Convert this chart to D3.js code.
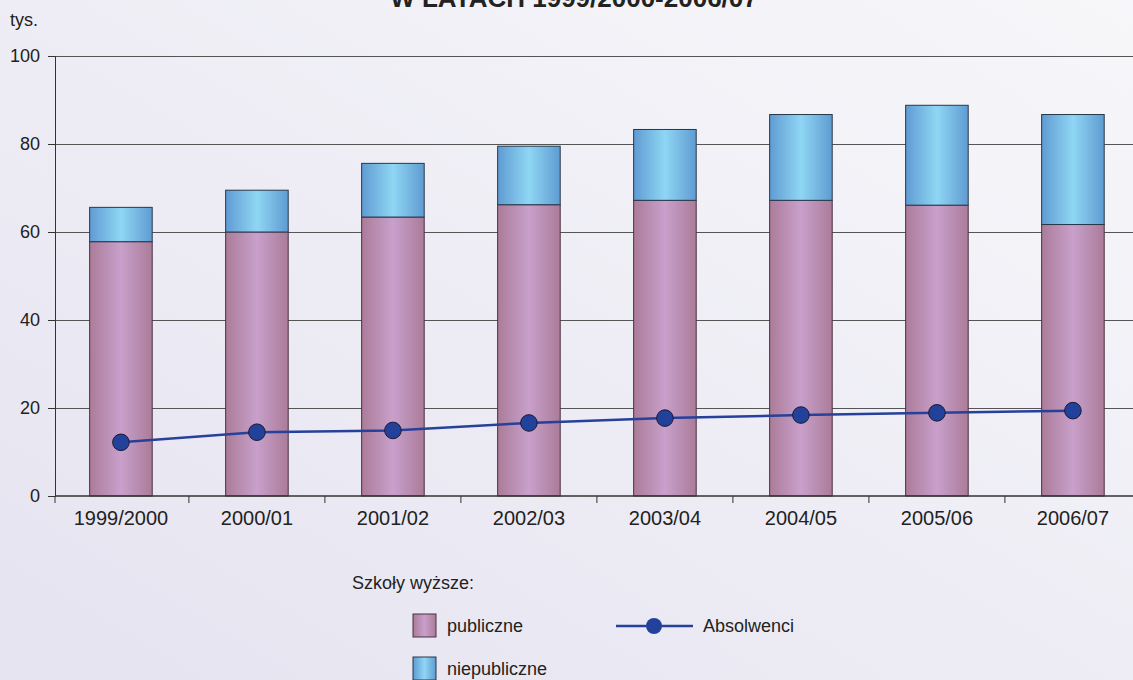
<!DOCTYPE html>
<html>
<head>
<meta charset="utf-8">
<script src="https://cdn.jsdelivr.net/npm/d3@7"></script>
<style>
  html, body { margin: 0; padding: 0; }
  body { width: 1133px; height: 680px; overflow: hidden; }
  svg { display: block; font-family: "Liberation Sans", Arial, sans-serif; }
</style>
</head>
<body>
<div id="chart"></div>
<script>
// data (thousands)
var years = ["1999/2000", "2000/01", "2001/02", "2002/03", "2003/04", "2004/05", "2005/06", "2006/07"];
var publiczne = [57.8, 60.0, 63.4, 66.2, 67.2, 67.2, 66.1, 61.7];
var niepubliczne = [7.8, 9.5, 12.2, 13.3, 16.1, 19.5, 22.7, 25.0];
var absolwenci = [12.2, 14.5, 14.9, 16.6, 17.7, 18.4, 18.9, 19.4];
var yTicks = [0, 20, 40, 60, 80, 100];

var width = 1133, height = 680;
var left = 55, step = 136;

var svg = d3.select("#chart").append("svg")
    .attr("width", width)
    .attr("height", height);

var defs = svg.append("defs");

var bg = defs.append("linearGradient").attr("id", "bg")
    .attr("x1", "0%").attr("y1", "100%").attr("x2", "100%").attr("y2", "0%");
bg.append("stop").attr("offset", "0%").attr("stop-color", "#e5e3f0");
bg.append("stop").attr("offset", "100%").attr("stop-color", "#f7f7fa");

function barGradient(id, edge, mid) {
    var g = defs.append("linearGradient").attr("id", id)
        .attr("x1", "0%").attr("y1", "0%").attr("x2", "100%").attr("y2", "0%");
    g.append("stop").attr("offset", "0%").attr("stop-color", edge);
    g.append("stop").attr("offset", "50%").attr("stop-color", mid);
    g.append("stop").attr("offset", "100%").attr("stop-color", edge);
}
barGradient("pub", "#ab7c99", "#c8a0cb");
barGradient("niepub", "#5f9bd2", "#8fd6f4");

svg.append("rect").attr("width", width).attr("height", height).attr("fill", "url(#bg)");

var x = d3.scaleBand()
    .domain(years)
    .range([left + 2, left + 2 + step * 7.94])
    .paddingInner(0.54)
    .paddingOuter(0.24);

var y = d3.scaleLinear()
    .domain([0, 100])
    .range([496, 56]);

// title (cut off at the top in the original too)
svg.append("text")
    .attr("x", 574)
    .attr("y", 7)
    .attr("text-anchor", "middle")
    .attr("font-size", 26)
    .attr("font-weight", "bold")
    .attr("fill", "#222")
    .text("W LATACH 1999/2000-2006/07");

svg.append("text")
    .attr("x", 10)
    .attr("y", 26)
    .attr("font-size", 18)
    .attr("fill", "#222")
    .text("tys.");

// horizontal grid
svg.append("g")
    .selectAll("line")
    .data(yTicks.slice(1))
    .join("line")
    .attr("x1", left)
    .attr("x2", width)
    .attr("y1", d => Math.round(y(d)) + 0.5)
    .attr("y2", d => Math.round(y(d)) + 0.5)
    .attr("stroke", "#555")
    .attr("stroke-width", 1.2);

// stacked bars
var stack = years.map(function(d, i) {
    return { year: d, pub: publiczne[i], niepub: niepubliczne[i] };
});

var bars = svg.append("g");
bars.selectAll("rect.pub")
    .data(stack)
    .join("rect")
    .attr("class", "pub")
    .attr("x", d => x(d.year))
    .attr("width", x.bandwidth())
    .attr("y", d => y(d.pub))
    .attr("height", d => y(0) - y(d.pub))
    .attr("fill", "url(#pub)")
    .attr("stroke", "#4a3040")
    .attr("stroke-width", 1);

bars.selectAll("rect.niepub")
    .data(stack)
    .join("rect")
    .attr("class", "niepub")
    .attr("x", d => x(d.year))
    .attr("width", x.bandwidth())
    .attr("y", d => y(d.pub + d.niepub))
    .attr("height", d => y(d.pub) - y(d.pub + d.niepub))
    .attr("fill", "url(#niepub)")
    .attr("stroke", "#283848")
    .attr("stroke-width", 1);

// y axis
var yAxis = svg.append("g")
    .attr("transform", "translate(" + left + ",0)")
    .call(d3.axisLeft(y).tickValues(yTicks).tickSize(7).tickPadding(8));
yAxis.selectAll("text").attr("font-size", 18).attr("fill", "#222").attr("font-family", "Liberation Sans, Arial, sans-serif");
yAxis.selectAll("line").attr("stroke", "#333");
yAxis.select(".domain").attr("stroke", "#333");

// x axis: labels under bars, ticks between categories
var xAxis = svg.append("g")
    .attr("transform", "translate(0," + y(0) + ")")
    .call(d3.axisBottom(x).tickSize(0).tickPadding(15));
xAxis.select(".domain").remove();
xAxis.selectAll("text").attr("font-size", 20).attr("fill", "#222").attr("font-family", "Liberation Sans, Arial, sans-serif");

svg.append("line")
    .attr("x1", left).attr("x2", width)
    .attr("y1", y(0)).attr("y2", y(0))
    .attr("stroke", "#333").attr("stroke-width", 1.3);

svg.append("g")
    .selectAll("line")
    .data(years)
    .join("line")
    .attr("x1", (d, i) => i === 0 ? left : x(d) - (x.step() - x.bandwidth()) / 2)
    .attr("x2", (d, i) => i === 0 ? left : x(d) - (x.step() - x.bandwidth()) / 2)
    .attr("y1", y(0))
    .attr("y2", y(0) + 7)
    .attr("stroke", "#333");

// graduates line
var line = d3.line()
    .x((d, i) => x(years[i]) + x.bandwidth() / 2)
    .y(d => y(d));

svg.append("path")
    .datum(absolwenci)
    .attr("d", line)
    .attr("fill", "none")
    .attr("stroke", "#27409a")
    .attr("stroke-width", 2.5);

svg.append("g")
    .selectAll("circle")
    .data(absolwenci)
    .join("circle")
    .attr("cx", (d, i) => x(years[i]) + x.bandwidth() / 2)
    .attr("cy", d => y(d))
    .attr("r", 8.3)
    .attr("fill", "#22419b")
    .attr("stroke", "#1a1a30")
    .attr("stroke-width", 1);

// legend
var legend = svg.append("g").attr("font-size", 18).attr("fill", "#222");

legend.append("text")
    .attr("x", 352).attr("y", 589)
    .text("Szkoły wyższe:");

var legendItems = [
    { label: "publiczne", fill: "url(#pub)", stroke: "#4a3040", top: 614 },
    { label: "niepubliczne", fill: "url(#niepub)", stroke: "#283848", top: 657 }
];

legend.selectAll("rect")
    .data(legendItems)
    .join("rect")
    .attr("x", 413).attr("y", d => d.top)
    .attr("width", 23).attr("height", 23)
    .attr("fill", d => d.fill)
    .attr("stroke", d => d.stroke);

legend.selectAll("text.item")
    .data(legendItems)
    .join("text")
    .attr("class", "item")
    .attr("x", 447).attr("y", d => d.top + 18)
    .text(d => d.label);

legend.append("line")
    .attr("x1", 616).attr("x2", 693)
    .attr("y1", 626).attr("y2", 626)
    .attr("stroke", "#27409a").attr("stroke-width", 2.5);
legend.append("circle")
    .attr("cx", 654).attr("cy", 626).attr("r", 8)
    .attr("fill", "#22419b");
legend.append("text")
    .attr("x", 703).attr("y", 632)
    .text("Absolwenci");
</script>
</body>
</html>
